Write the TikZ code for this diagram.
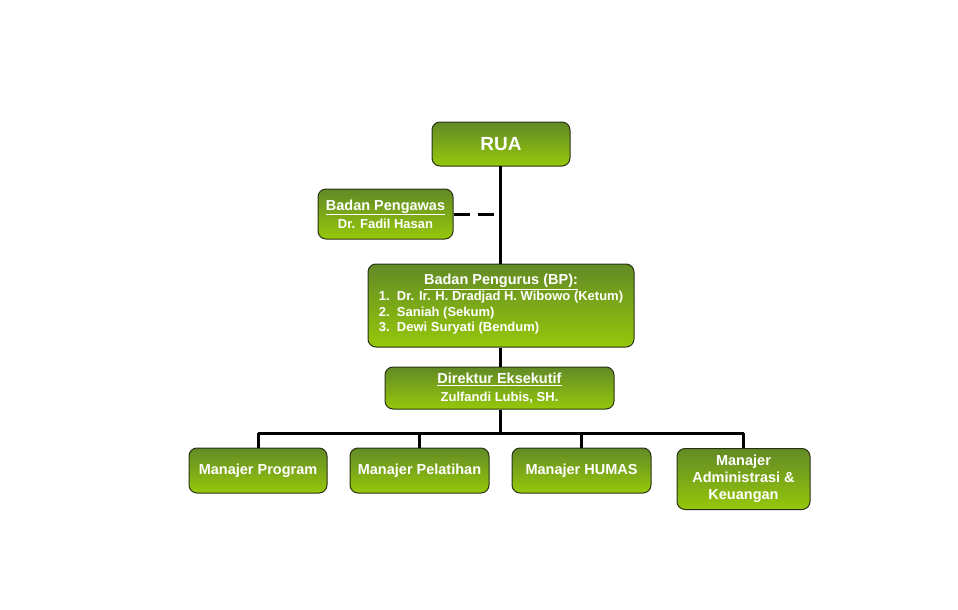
\documentclass[tikz,border=0pt]{standalone}
\usepackage{fontspec}
\setmainfont{Liberation Sans}
\definecolor{boxtop}{RGB}{98,138,38}
\definecolor{boxbot}{RGB}{150,200,10}
\definecolor{boxline}{RGB}{40,50,20}
\tikzset{
  orgbox/.style={draw=boxline,line width=1pt,rounded corners=8pt,
    top color=boxtop,bottom color=boxbot,text=white,
    font=\bfseries\fontsize{14.5}{17}\selectfont,align=center,
    inner sep=0pt,anchor=center},
  link/.style={line width=3pt,black}
}
\begin{document}
\begin{tikzpicture}[x=1pt,y=-1pt]
\useasboundingbox (0,0) rectangle (958,610);
% atas
\node[orgbox,minimum width=138pt,minimum height=44pt,
  font=\bfseries\fontsize{19}{20}\selectfont] (rua) at (501,144) {RUA};
\node[orgbox,minimum width=135pt,minimum height=50pt] (bpw) at (385.5,214)
  {\underline{Badan Pengawas}\\[1pt]{\fontsize{13}{15}\selectfont Dr. Fadil Hasan}};
\node[orgbox,minimum width=266pt,minimum height=83pt] (bp) at (501,305.5)
  {\underline{Badan Pengurus (BP):}\\[-1pt]
  {\fontsize{13}{15.5}\selectfont\begin{tabular}{@{}l@{}}
  1.\ \ Dr. Ir. H. Dradjad H. Wibowo (Ketum)\\
  2.\ \ Saniah (Sekum)\\
  3.\ \ Dewi Suryati (Bendum)
  \end{tabular}}};
\node[orgbox,minimum width=229pt,minimum height=42pt] (dir) at (499.5,388)
  {\underline{Direktur Eksekutif}\\[1pt]{\fontsize{13}{15}\selectfont Zulfandi Lubis, SH.}};
% manajer
\node[orgbox,minimum width=138pt,minimum height=45pt] (mprog) at (258,470.5) {Manajer Program};
\node[orgbox,minimum width=139pt,minimum height=45pt] (mlat) at (419.5,470.5) {\raisebox{3pt}{Manajer Pelatihan}};
\node[orgbox,minimum width=139pt,minimum height=45pt] (mhum) at (581.5,470.5) {\raisebox{3pt}{Manajer HUMAS}};
\node[orgbox,minimum width=133pt,minimum height=61pt,anchor=north] (madm) at (743.5,448)
  {Manajer\\Administrasi \&\\Keuangan};
% garis
\coordinate (bus) at (500,433);
\draw[link] (500,166) -- (bp.north -| 500,0);
\draw[link] (bp.south -| 500,0) -- (dir.north -| 500,0);
\draw[link] (dir.south -| 500,0) -- (bus);
\draw[link,dash pattern=on 16pt off 8pt] (bpw.east) -- ++(47,0);
\draw[link] (mprog.north |- bus) -- (madm.north |- bus);
\foreach \m in {mprog,mlat,mhum,madm}
  \draw[link] (\m.north |- bus) -- (\m.north);
\end{tikzpicture}
\end{document}
